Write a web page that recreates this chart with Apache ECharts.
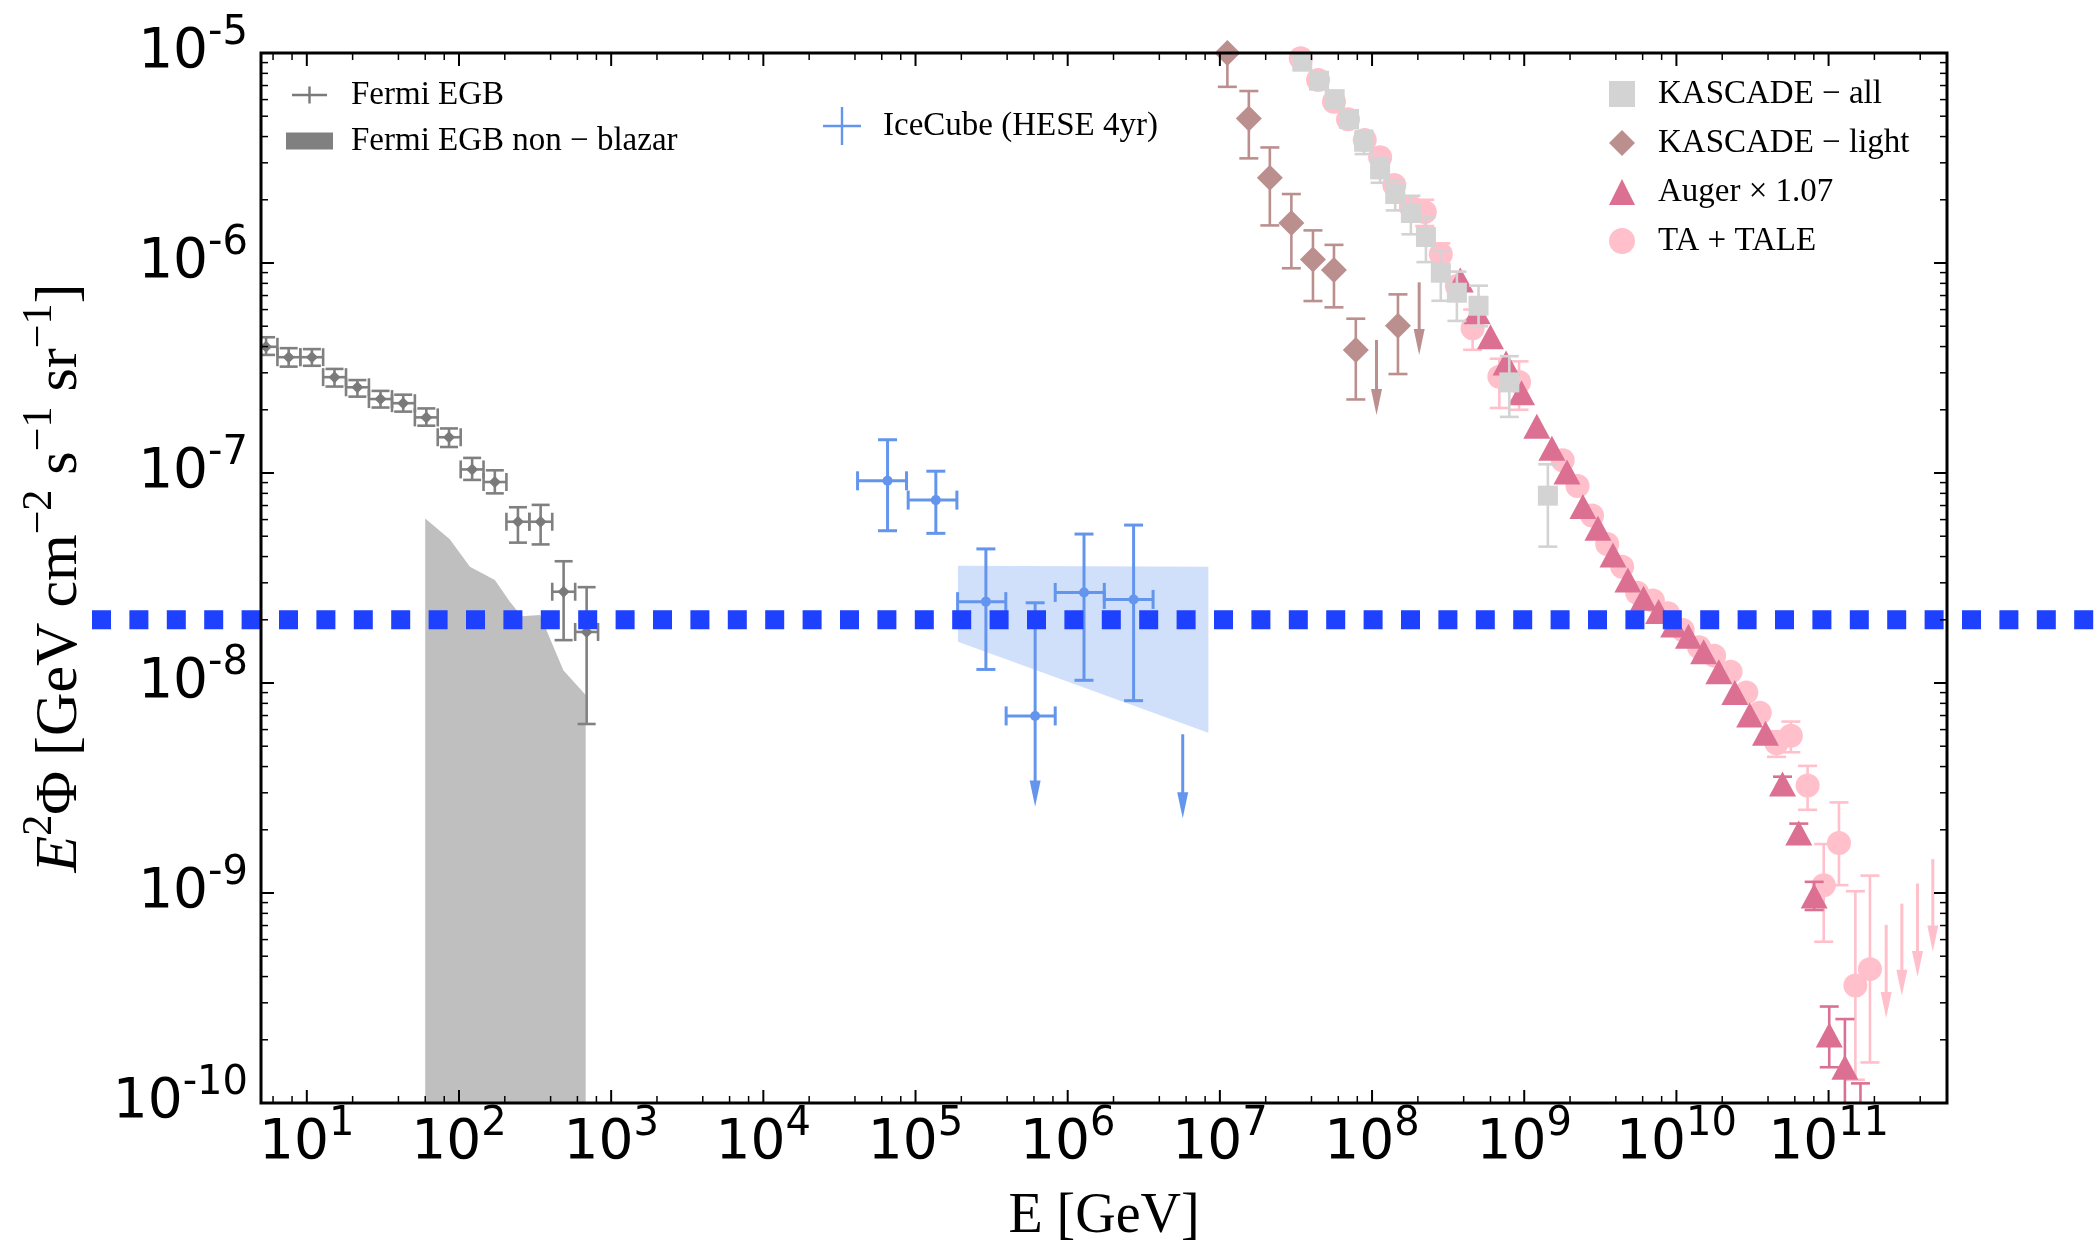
<!DOCTYPE html>
<html>
<head>
<meta charset="utf-8">
<script src="https://cdn.jsdelivr.net/npm/echarts@6/dist/echarts.min.js"></script>
<style>
  html, body { margin: 0; padding: 0; background: #fff; }
  #chart { width: 2098px; height: 1249px; }
</style>
</head>
<body>
<div id="chart"></div>
<script>
// ---- axis ticks ----
const xTickExponents = [1, 2, 3, 4, 5, 6, 7, 8, 9, 10, 11];
const yTickExponents = [-10, -9, -8, -7, -6, -5];
const xMinorSubs = [2, 4, 6, 8];
const yMinorSubs = [2, 3, 4, 5, 6, 7, 8, 9];
const xRange = [5, 6e11];
const yRange = [1e-10, 1e-5];

// ---- Fermi EGB ----
const fermiE = [5.4, 7.6, 10.8, 15.2, 21.5, 30.5, 43, 61, 86, 122, 172, 244, 344, 487, 690];
const fermiElo = [4.53, 6.41, 9.06, 12.8, 18.1, 25.6, 36.3, 51.3, 72.5, 102.6, 145, 205, 290, 410, 580];
const fermiEhi = [6.41, 9.06, 12.8, 18.1, 25.6, 36.3, 51.3, 72.5, 102.6, 145, 205, 290, 410, 580, 820];
const fermiF = [3.99e-7, 3.56e-7, 3.56e-7, 2.86e-7, 2.56e-7, 2.25e-7, 2.15e-7, 1.84e-7, 1.48e-7, 1.04e-7, 9.06e-8, 5.86e-8, 5.86e-8, 2.72e-8, 1.75e-8];
const fermiFlo = [3.65e-7, 3.21e-7, 3.24e-7, 2.58e-7, 2.31e-7, 2.05e-7, 1.96e-7, 1.68e-7, 1.33e-7, 9.27e-8, 8.0e-8, 4.66e-8, 4.57e-8, 1.6e-8, 6.38e-9];
const fermiFhi = [4.43e-7, 3.93e-7, 3.89e-7, 3.13e-7, 2.77e-7, 2.46e-7, 2.36e-7, 2.03e-7, 1.63e-7, 1.18e-7, 1.03e-7, 6.87e-8, 7.05e-8, 3.8e-8, 2.86e-8];

// Fermi EGB non-blazar band (upper edge)
const nonBlazarE = [60, 87, 118, 172, 216, 258, 341, 485, 680];
const nonBlazarF = [6.08e-8, 4.83e-8, 3.58e-8, 3.09e-8, 2.44e-8, 2.08e-8, 2.11e-8, 1.15e-8, 8.77e-9];

// ---- IceCube HESE 4yr ----
const iceE = [6.55e4, 1.36e5, 2.9e5, 6.11e5, 1.28e6, 2.71e6];
const iceElo = [4.16e4, 8.95e4, 1.89e5, 3.94e5, 8.28e5, 1.74e6];
const iceEhi = [8.73e4, 1.87e5, 3.92e5, 8.28e5, 1.74e6, 3.64e6];
const iceF = [9.18e-8, 7.43e-8, 2.44e-8, 6.97e-9, 2.7e-8, 2.5e-8];
const iceFlo = [5.31e-8, 5.16e-8, 1.16e-8, null, 1.03e-8, 8.24e-9];
const iceFhi = [1.44e-7, 1.02e-7, 4.35e-8, 2.41e-8, 5.12e-8, 5.65e-8];
const iceUlE = [6.11e5, 5.7e6];
const iceUlFrom = [6.97e-9, 5.7e-9];
const iceUlTo = [2.58e-9, 2.27e-9];
const iceBandE = [1.9e5, 8.4e6];
const iceBandUpper = [3.62e-8, 3.58e-8];
const iceBandLower = [1.57e-8, 5.8e-9];

// ---- KASCADE ----
const kAllE = [3.48e7, 4.48e7, 5.68e7, 7.06e7, 8.86e7, 1.13e8, 1.42e8, 1.8e8, 2.26e8, 2.83e8, 3.61e8, 5.01e8, 7.98e8, 1.43e9];
const kAllF = [9.09e-6, 7.38e-6, 6.03e-6, 4.85e-6, 3.78e-6, 2.79e-6, 2.13e-6, 1.73e-6, 1.33e-6, 8.99e-7, 7.22e-7, 6.26e-7, 2.7e-7, 7.8e-8];
const kAllFlo = [null, null, null, null, 3.3e-6, 2.41e-6, 1.78e-6, 1.37e-6, 1.01e-6, 6.61e-7, 5.3e-7, 5.0e-7, 1.85e-7, 4.46e-8];
const kAllFhi = [null, null, null, null, 4.26e-6, 3.17e-6, 2.48e-6, 2.09e-6, 1.65e-6, 1.14e-6, 9.1e-7, 7.8e-7, 3.6e-7, 1.1e-7];

const kLightE = [1.12e7, 1.55e7, 2.13e7, 2.95e7, 4.09e7, 5.62e7, 7.82e7, 1.48e8];
const kLightF = [1.0e-5, 4.88e-6, 2.55e-6, 1.55e-6, 1.04e-6, 9.27e-7, 3.85e-7, 5.02e-7];
const kLightFlo = [6.9e-6, 3.15e-6, 1.51e-6, 9.44e-7, 6.59e-7, 6.15e-7, 2.24e-7, 2.96e-7];
const kLightFhi = [1.4e-5, 6.59e-6, 3.55e-6, 2.13e-6, 1.43e-6, 1.22e-6, 5.43e-7, 7.09e-7];
const kLightUlE = [1.07e8, 2.04e8];
const kLightUlFrom = [4.3e-7, 8.09e-7];
const kLightUlTo = [1.89e-7, 3.65e-7];

// ---- Auger x 1.07 ----
const augerE = [3.8e8, 4.9e8, 6.0e8, 7.6e8, 9.6e8, 1.21e9, 1.52e9, 1.91e9, 2.43e9, 3.05e9, 3.83e9, 4.8e9, 6.08e9, 7.64e9, 9.6e9, 1.2e10, 1.51e10, 1.9e10, 2.42e10, 3.03e10, 3.85e10, 4.98e10, 6.37e10, 8.04e10, 1.01e11, 1.28e11, 1.62e11];
const augerF = [8.3e-7, 5.86e-7, 4.46e-7, 3.34e-7, 2.41e-7, 1.67e-7, 1.31e-7, 1.01e-7, 6.92e-8, 5.46e-8, 4.07e-8, 3.09e-8, 2.53e-8, 2.19e-8, 1.89e-8, 1.67e-8, 1.41e-8, 1.13e-8, 9.0e-9, 7.05e-9, 5.76e-9, 3.3e-9, 1.93e-9, 9.68e-10, 2.11e-10, 1.48e-10, 6e-11];
const augerFlo = [null, null, null, null, null, null, null, null, null, null, null, null, null, null, null, null, null, null, null, null, null, 3.0e-9, 1.72e-9, 8.3e-10, 1.48e-10, 5e-11, 3e-11];
const augerFhi = [null, null, null, null, null, null, null, null, null, null, null, null, null, null, null, null, null, null, null, null, null, 3.58e-9, 2.14e-9, 1.13e-9, 2.88e-10, 2.51e-10, 1.24e-10];

// ---- TA + TALE ----
const taE = [3.4e7, 4.42e7, 5.62e7, 6.95e7, 8.95e7, 1.13e8, 1.4e8, 1.8e8, 2.22e8, 2.83e8, 3.61e8, 4.58e8, 6.86e8, 9.25e8, 1.79e9, 2.24e9, 2.79e9, 3.51e9, 4.4e9, 5.52e9, 7.01e9, 8.81e9, 1.1e10, 1.41e10, 1.77e10, 2.27e10, 2.88e10, 3.53e10, 4.55e10, 5.65e10, 7.28e10, 9.29e10, 1.17e11, 1.5e11, 1.87e11];
const taF = [9.44e-6, 7.43e-6, 5.86e-6, 4.83e-6, 3.85e-6, 3.19e-6, 2.35e-6, 1.85e-6, 1.75e-6, 1.1e-6, 7.77e-7, 4.89e-7, 2.87e-7, 2.71e-7, 1.15e-7, 8.68e-8, 6.27e-8, 4.59e-8, 3.58e-8, 2.69e-8, 2.47e-8, 2.15e-8, 1.79e-8, 1.48e-8, 1.35e-8, 1.13e-8, 9.0e-9, 7.22e-9, 5.17e-9, 5.61e-9, 3.25e-9, 1.09e-9, 1.73e-9, 3.63e-10, 4.34e-10];
const taFlo = [null, null, null, null, null, null, null, null, 1.5e-6, 9.6e-7, null, 3.86e-7, 2.04e-7, 2.0e-7, null, null, null, null, null, null, null, null, null, null, null, null, null, null, 4.45e-9, 4.68e-9, 2.49e-9, 5.86e-10, 1.09e-9, 1.29e-10, 1.56e-10];
const taFhi = [null, null, null, null, null, null, null, null, 2.0e-6, 1.24e-6, null, 6.0e-7, 3.5e-7, 3.4e-7, null, null, null, null, null, null, null, null, null, null, null, null, null, null, 5.9e-9, 6.55e-9, 4.03e-9, 1.71e-9, 2.7e-9, 1.02e-9, 1.21e-9];
const taUlE = [2.39e11, 3.03e11, 3.84e11, 4.84e11];
const taUlFrom = [7.05e-10, 8.9e-10, 1.11e-9, 1.45e-9];
const taUlTo = [2.54e-10, 3.24e-10, 3.98e-10, 5.27e-10];

// horizontal reference level
const refLevel = 2e-8;

// ---------------------------------------------------------------
const lg = Math.log10;
const X_MIN = lg(xRange[0]), X_MAX = lg(xRange[1]);
const Y_MIN = lg(yRange[0]), Y_MAX = lg(yRange[1]);
const SERIF = 'Liberation Serif';
const SANS = 'DejaVu Sans';

// error bars drawn through the axes
function errorBars(E, Elo, Ehi, F, Flo, Fhi, color, lw, cap, z) {
    return {
        type: 'custom', silent: true, clip: true, z: z,
        data: E.map((e, i) => [lg(e), lg(F[i])]),
        renderItem(params, api) {
            const i = params.dataIndex;
            const c = api.coord([lg(E[i]), lg(F[i])]);
            const kids = [];
            const seg = (x1, y1, x2, y2) => kids.push({
                type: 'line', shape: { x1, y1, x2, y2 },
                style: { stroke: color, lineWidth: lw }
            });
            if (Elo && Elo[i] != null) {
                const a = api.coord([lg(Elo[i]), lg(F[i])])[0];
                const b = api.coord([lg(Ehi[i]), lg(F[i])])[0];
                seg(a, c[1], b, c[1]);
                seg(a, c[1] - cap, a, c[1] + cap);
                seg(b, c[1] - cap, b, c[1] + cap);
            }
            if (Fhi && Fhi[i] != null) {
                const t = api.coord([lg(E[i]), lg(Fhi[i])])[1];
                seg(c[0], c[1], c[0], t);
                seg(c[0] - cap, t, c[0] + cap, t);
            }
            if (Flo && Flo[i] != null) {
                const b = api.coord([lg(E[i]), lg(Flo[i])])[1];
                seg(c[0], c[1], c[0], b);
                seg(c[0] - cap, b, c[0] + cap, b);
            }
            return { type: 'group', children: kids };
        }
    };
}

// upper limits: line with arrow head
function upperLimits(E, from, to, color, lw, z) {
    return {
        type: 'custom', silent: true, clip: true, z: z,
        data: E.map((e, i) => [lg(e), lg(from[i])]),
        renderItem(params, api) {
            const i = params.dataIndex;
            const p = api.coord([lg(E[i]), lg(from[i])]);
            const q = api.coord([lg(E[i]), lg(to[i])]);
            const hl = 26, hw = 5.5;
            return {
                type: 'group', children: [
                    { type: 'line', shape: { x1: p[0], y1: p[1], x2: q[0], y2: q[1] - hl + 2 }, style: { stroke: color, lineWidth: lw } },
                    { type: 'polygon', shape: { points: [[q[0], q[1]], [q[0] - hw, q[1] - hl], [q[0] + hw, q[1] - hl]] }, style: { fill: color } }
                ]
            };
        }
    };
}

function markers(name, E, F, symbol, size, color, z) {
    return {
        type: 'scatter', name: name, silent: true, z: z,
        symbol: symbol, symbolSize: size,
        itemStyle: { color: color, opacity: 1 },
        data: E.map((e, i) => [lg(e), lg(F[i])])
    };
}

function tickLabel(list) {
    return function (v) {
        const n = Math.round(v);
        return (Math.abs(v - n) < 1e-6 && list.includes(n)) ? '{b|10}{s|' + n + '}' : '';
    };
}
const labelRich = {
    b: { fontFamily: SANS, fontSize: 55, lineHeight: 78, color: '#000' },
    s: { fontFamily: SANS, fontSize: 40, lineHeight: 40, verticalAlign: 'top', color: '#000' }
};

const crossFermi = 'path://M0,7.3H35V9.7H0Z M16.3,0H18.7V17H16.3Z';
const crossIce = 'path://M0,17.8H38V20.2H0Z M17.8,0H20.2V38H17.8Z';

const series = [
    // filled regions
    {
        type: 'custom', name: 'Fermi EGB non − blazar', silent: true, clip: true, z: 1,
        itemStyle: { color: '#808080' },
        data: [[lg(nonBlazarE[0]), lg(nonBlazarF[0])]],
        renderItem(params, api) {
            const pts = nonBlazarE.map((e, i) => api.coord([lg(e), lg(nonBlazarF[i])]));
            pts.push(api.coord([lg(nonBlazarE[nonBlazarE.length - 1]), Y_MIN]));
            pts.push(api.coord([lg(nonBlazarE[0]), Y_MIN]));
            return { type: 'polygon', shape: { points: pts }, style: { fill: '#bfbfbf' } };
        }
    },
    {
        type: 'custom', silent: true, clip: true, z: 1,
        data: [[lg(iceBandE[0]), lg(iceBandUpper[0])]],
        renderItem(params, api) {
            const pts = [
                api.coord([lg(iceBandE[0]), lg(iceBandUpper[0])]),
                api.coord([lg(iceBandE[1]), lg(iceBandUpper[1])]),
                api.coord([lg(iceBandE[1]), lg(iceBandLower[1])]),
                api.coord([lg(iceBandE[0]), lg(iceBandLower[0])])
            ];
            return { type: 'polygon', shape: { points: pts }, style: { fill: 'rgba(100,149,237,0.3)' } };
        }
    },
    // Fermi EGB
    errorBars(fermiE, fermiElo, fermiEhi, fermiF, fermiFlo, fermiFhi, '#808080', 2.6, 9, 3),
    markers('Fermi EGB', fermiE, fermiF, 'diamond', [12, 12], '#7a7a7a', 4),
    // IceCube
    errorBars(iceE, iceElo, iceEhi, iceF, iceFlo, iceFhi, '#6495ed', 3, 9.5, 3),
    upperLimits(iceUlE, iceUlFrom, iceUlTo, '#6495ed', 3, 3),
    markers('IceCube (HESE 4yr)', iceE, iceF, 'circle', 10, '#6495ed', 4),
    // TA + TALE
    errorBars(taE, null, null, taF, taFlo, taFhi, '#ffc0cb', 2.6, 9.5, 5),
    upperLimits(taUlE, taUlFrom, taUlTo, '#ffc0cb', 3, 5),
    markers('TA + TALE', taE, taF, 'circle', 24, '#ffc0cb', 6),
    // Auger
    errorBars(augerE, null, null, augerF, augerFlo, augerFhi, '#db7093', 2.6, 9.5, 7),
    markers('Auger × 1.07', augerE, augerF, 'triangle', [27, 25], '#db7093', 8),
    // KASCADE
    errorBars(kLightE, null, null, kLightF, kLightFlo, kLightFhi, '#bc8f8f', 2.6, 9.5, 9),
    upperLimits(kLightUlE, kLightUlFrom, kLightUlTo, '#bc8f8f', 3, 9),
    markers('KASCADE − light', kLightE, kLightF, 'diamond', [26, 26], '#bc8f8f', 10),
    errorBars(kAllE, null, null, kAllF, kAllFlo, kAllFhi, '#d3d3d3', 2.6, 9.5, 9),
    markers('KASCADE − all', kAllE, kAllF, 'rect', [20, 20], '#d3d3d3', 10),
    // dotted reference level, runs past the axes
    {
        type: 'custom', silent: true, clip: false, z: 20,
        data: [[X_MIN, lg(refLevel)]],
        renderItem(params, api) {
            const y = api.coord([X_MIN, lg(refLevel)])[1];
            return {
                type: 'line', shape: { x1: 92, y1: y, x2: api.getWidth(), y2: y },
                style: { stroke: '#1e40ff', lineWidth: 19, lineDash: [19, 18.4], lineCap: 'butt' }
            };
        }
    },
    // frame and log ticks on all four sides
    {
        type: 'custom', silent: true, clip: false, z: 30,
        data: [[X_MIN + 1, Y_MIN + 1]],
        renderItem(params, api) {
            const tl = api.coord([X_MIN, Y_MAX]), br = api.coord([X_MAX, Y_MIN]);
            const L = tl[0], T = tl[1], R = br[0], B = br[1];
            const kids = [];
            const add = (x1, y1, x2, y2, w) => kids.push({
                type: 'line', shape: { x1, y1, x2, y2 }, style: { stroke: '#000', lineWidth: w }
            });
            const xt = (v, len, w) => {
                if (v <= X_MIN || v >= X_MAX) return;
                const x = api.coord([v, Y_MIN])[0];
                add(x, B, x, B - len, w); add(x, T, x, T + len, w);
            };
            const yt = (v, len, w) => {
                if (v <= Y_MIN || v >= Y_MAX) return;
                const y = api.coord([X_MIN, v])[1];
                add(L, y, L + len, y, w); add(R, y, R - len, y, w);
            };
            [0].concat(xTickExponents).forEach(n => {
                xt(n, 13, 2);
                xMinorSubs.forEach(m => xt(n + lg(m), 7, 1.5));
            });
            yTickExponents.forEach(n => {
                yt(n, 13, 2);
                yMinorSubs.forEach(m => yt(n + lg(m), 7, 1.5));
            });
            kids.push({ type: 'rect', shape: { x: L, y: T, width: R - L, height: B - T }, style: { fill: 'none', stroke: '#000', lineWidth: 3 } });
            return { type: 'group', children: kids };
        }
    }
];

const legendText = { fontFamily: SERIF, fontSize: 33, color: '#000', lineHeight: 36 };

const option = {
    animation: false,
    backgroundColor: '#fff',
    grid: { left: 261, right: 151, top: 53, bottom: 146, outerBoundsMode: 'none', containLabel: false },
    xAxis: {
        type: 'value', min: X_MIN, max: X_MAX, minInterval: 1, maxInterval: 1, splitNumber: 11,
        axisLine: { show: false }, axisTick: { show: false }, splitLine: { show: false },
        axisLabel: { interval: 0, margin: 2, formatter: tickLabel(xTickExponents), rich: labelRich },
        name: 'E [GeV]', nameLocation: 'middle', nameGap: 86,
        nameTextStyle: { fontFamily: SERIF, fontSize: 56, color: '#000' }
    },
    yAxis: {
        type: 'value', min: Y_MIN, max: Y_MAX, interval: 1,
        axisLine: { show: false }, axisTick: { show: false }, splitLine: { show: false },
        axisLabel: { margin: 13, formatter: tickLabel(yTickExponents), rich: labelRich },
        name: '{i|E}{p|2}{t|Φ [GeV cm}{p|−2}{t| s}{p|−1}{t| sr}{p|−1}{t|]}',
        nameLocation: 'middle', nameRotate: 90, nameGap: 160,
        nameTextStyle: {
            color: '#000',
            rich: {
                i: { fontFamily: SERIF, fontStyle: 'italic', fontSize: 60, lineHeight: 82, color: '#000' },
                t: { fontFamily: SERIF, fontSize: 60, lineHeight: 82, color: '#000' },
                p: { fontFamily: SERIF, fontSize: 42, lineHeight: 44, verticalAlign: 'top', color: '#000' }
            }
        }
    },
    legend: [
        {
            orient: 'vertical', left: 281, top: 72, itemWidth: 47, itemHeight: 17, itemGap: 10,
            selectedMode: false, textStyle: Object.assign({ padding: [0, 0, 0, 13] }, legendText),
            data: [
                { name: 'Fermi EGB', icon: crossFermi },
                { name: 'Fermi EGB non − blazar', icon: 'rect', itemStyle: { color: '#808080', opacity: 1 } }
            ]
        },
        {
            orient: 'vertical', left: 818, top: 102, itemWidth: 38, itemHeight: 38,
            selectedMode: false, textStyle: Object.assign({ padding: [0, 0, 0, 17] }, legendText),
            data: [{ name: 'IceCube (HESE 4yr)', icon: crossIce }]
        },
        {
            orient: 'vertical', left: 1604, top: 71, itemWidth: 26, itemHeight: 26, itemGap: 13,
            selectedMode: false, textStyle: Object.assign({ padding: [0, 0, 0, 18] }, legendText),
            data: [
                { name: 'KASCADE − all', icon: 'rect' },
                { name: 'KASCADE − light', icon: 'diamond' },
                { name: 'Auger × 1.07', icon: 'triangle' },
                { name: 'TA + TALE', icon: 'circle' }
            ]
        }
    ],
    series: series
};

const chart = echarts.init(document.getElementById('chart'));
chart.setOption(option);
</script>
</body>
</html>
